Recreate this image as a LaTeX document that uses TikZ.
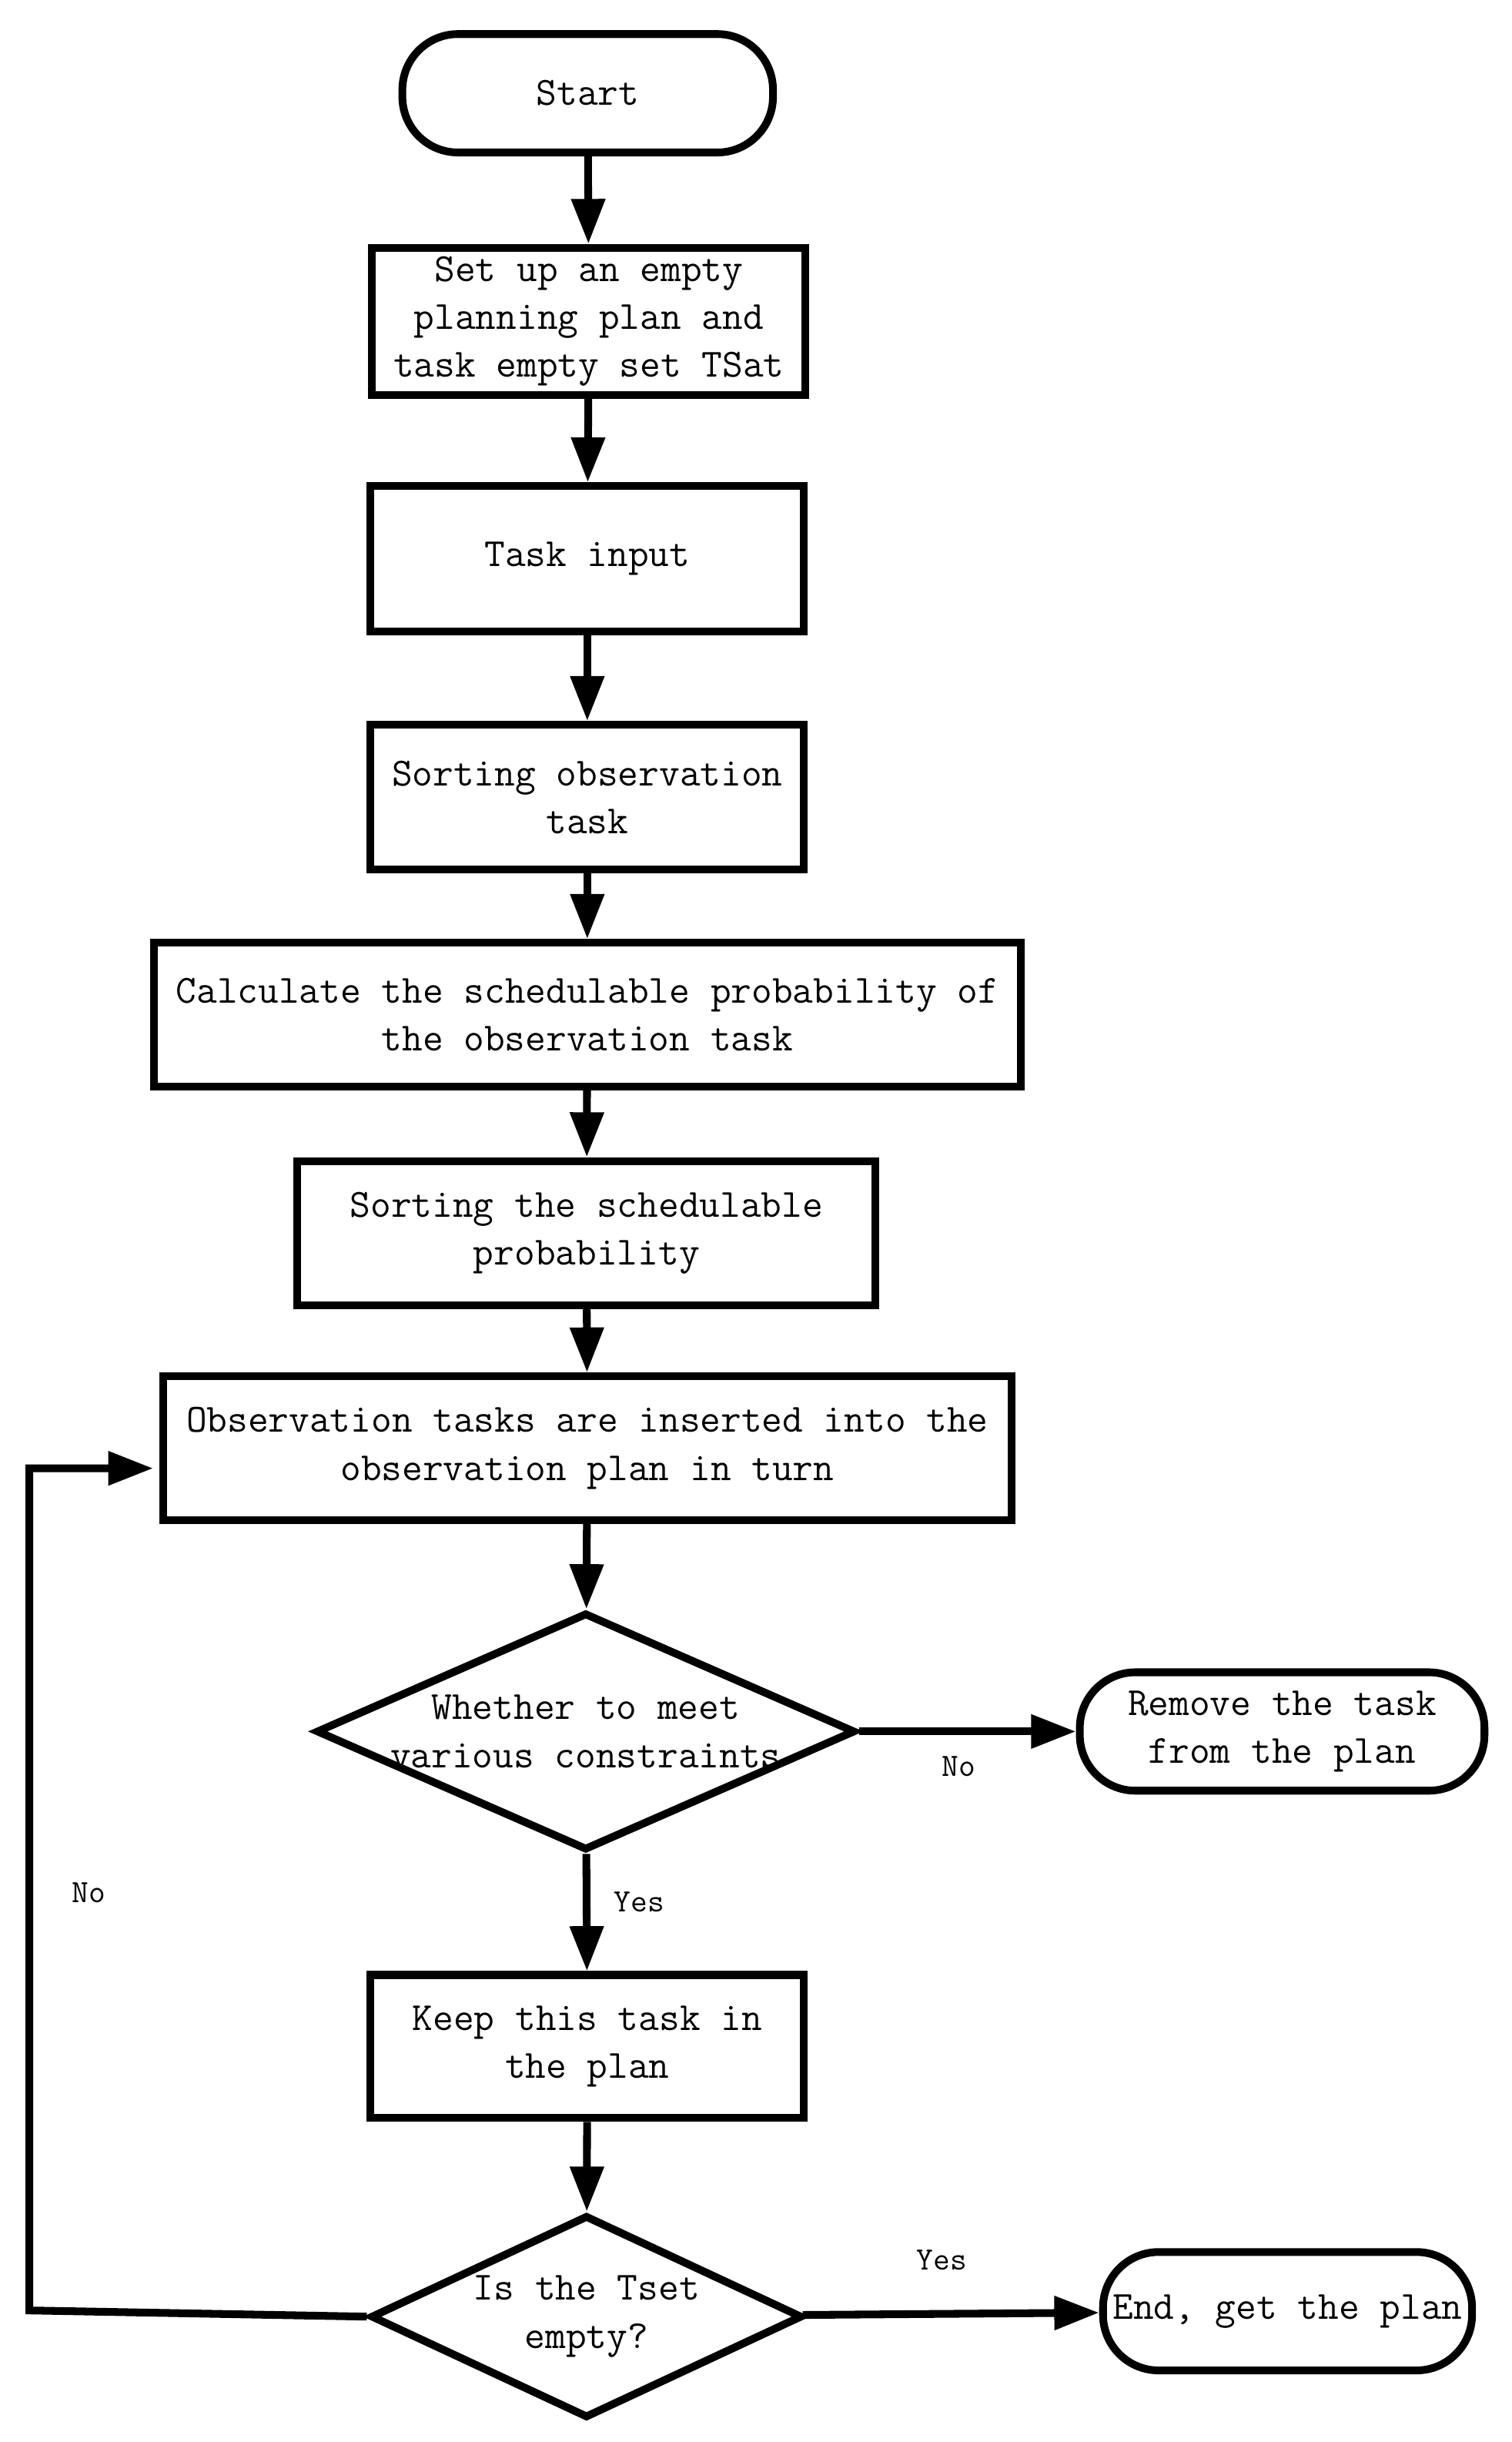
\documentclass[tikz,border=0pt]{standalone}
\usetikzlibrary{shapes.geometric,arrows.meta}
\begin{document}
\begin{tikzpicture}[x=0.5pt,y=-0.5pt,
  line width=5pt,
  base/.style={draw=black, line width=5pt, inner sep=0pt, align=center,
    font=\ttfamily\fontsize{25.8}{31}\selectfont},
  procbox/.style={base, rectangle},
  term/.style={base, rectangle, rounded corners=36pt},
  decis/.style={draw=black, line width=5pt, diamond, inner sep=0pt},
  dtext/.style={align=center, inner sep=0pt, font=\ttfamily\fontsize{25.8}{31}\selectfont},
  lbl/.style={inner sep=0pt, font=\ttfamily\fontsize{21}{24}\selectfont},
  arr/.style={-{Triangle[length=29pt,width=21pt]}, line width=5pt}]
\useasboundingbox (0,0) rectangle (1954,3155);
\fill[white] (0,0) rectangle (1954,3155);

\node[term, minimum width=239.5pt, minimum height=76.5pt] (start) at (759.5,120.5) {Start};
\node[procbox, minimum width=280pt, minimum height=95pt] (b1) at (761,415) {Set up an empty\\planning plan and\\task empty set TSat};
\node[procbox, minimum width=280pt, minimum height=94pt] (b2) at (759,722) {Task input};
\node[procbox, minimum width=280pt, minimum height=93.5pt] (b3) at (759,1030) {Sorting observation\\task};
\node[procbox, minimum width=560pt, minimum height=93pt] (b4) at (759,1311) {Calculate the schedulable probability of\\the observation task};
\node[procbox, minimum width=373.5pt, minimum height=93pt] (b5) at (758,1593) {Sorting the schedulable\\probability};
\node[procbox, minimum width=548pt, minimum height=93pt] (b6) at (759,1871) {Observation tasks are inserted into the\\observation plan in turn};
\node[decis, minimum width=348.5pt, minimum height=153.5pt] (d1) at (757,2237) {};
\node[dtext] (d1t) at (d1) {Whether to meet\\various constraints};
\node[term, minimum width=261.5pt, minimum height=76.5pt] (rem) at (1657,2237) {Remove the task\\from the plan};
\node[procbox, minimum width=280pt, minimum height=92.5pt] (keep) at (759,2644) {Keep this task in\\the plan};
\node[decis, minimum width=279pt, minimum height=131pt] (d2) at (758,2993) {};
\node[dtext] (d2t) at (d2) {Is the Tset\\empty?};
\node[term, minimum width=238.5pt, minimum height=76.5pt] (end) at (1664,2986) {End, get the plan};

\node[lbl] (no1) at (1239,2282) {No};
\node[lbl] (yes1) at (826,2457) {Yes};
\node[lbl] (yes2) at (1217,2920) {Yes};
\node[lbl] (no2) at (115,2445) {No};

\coordinate (c1) at (38,2985);
\coordinate (c2) at (38,1897);

\draw[arr] (start) -- (b1);
\draw[arr] (b1) -- (b2);
\draw[arr] (b2) -- (b3);
\draw[arr] (b3) -- (b4);
\draw[arr] (b4) -- (b5);
\draw[arr] (b5) -- (b6);
\draw[arr] (b6) -- (d1);
\draw[arr] (d1) -- (rem);
\draw[arr] (d1) -- (keep);
\draw[arr] (keep) -- (d2);
\draw[arr] (d2) -- (end);
\draw[arr, line join=miter] (d2.west) -- (c1) -- (c2) -- ([xshift=-4pt]c2 -| b6.west);
\end{tikzpicture}
\end{document}
